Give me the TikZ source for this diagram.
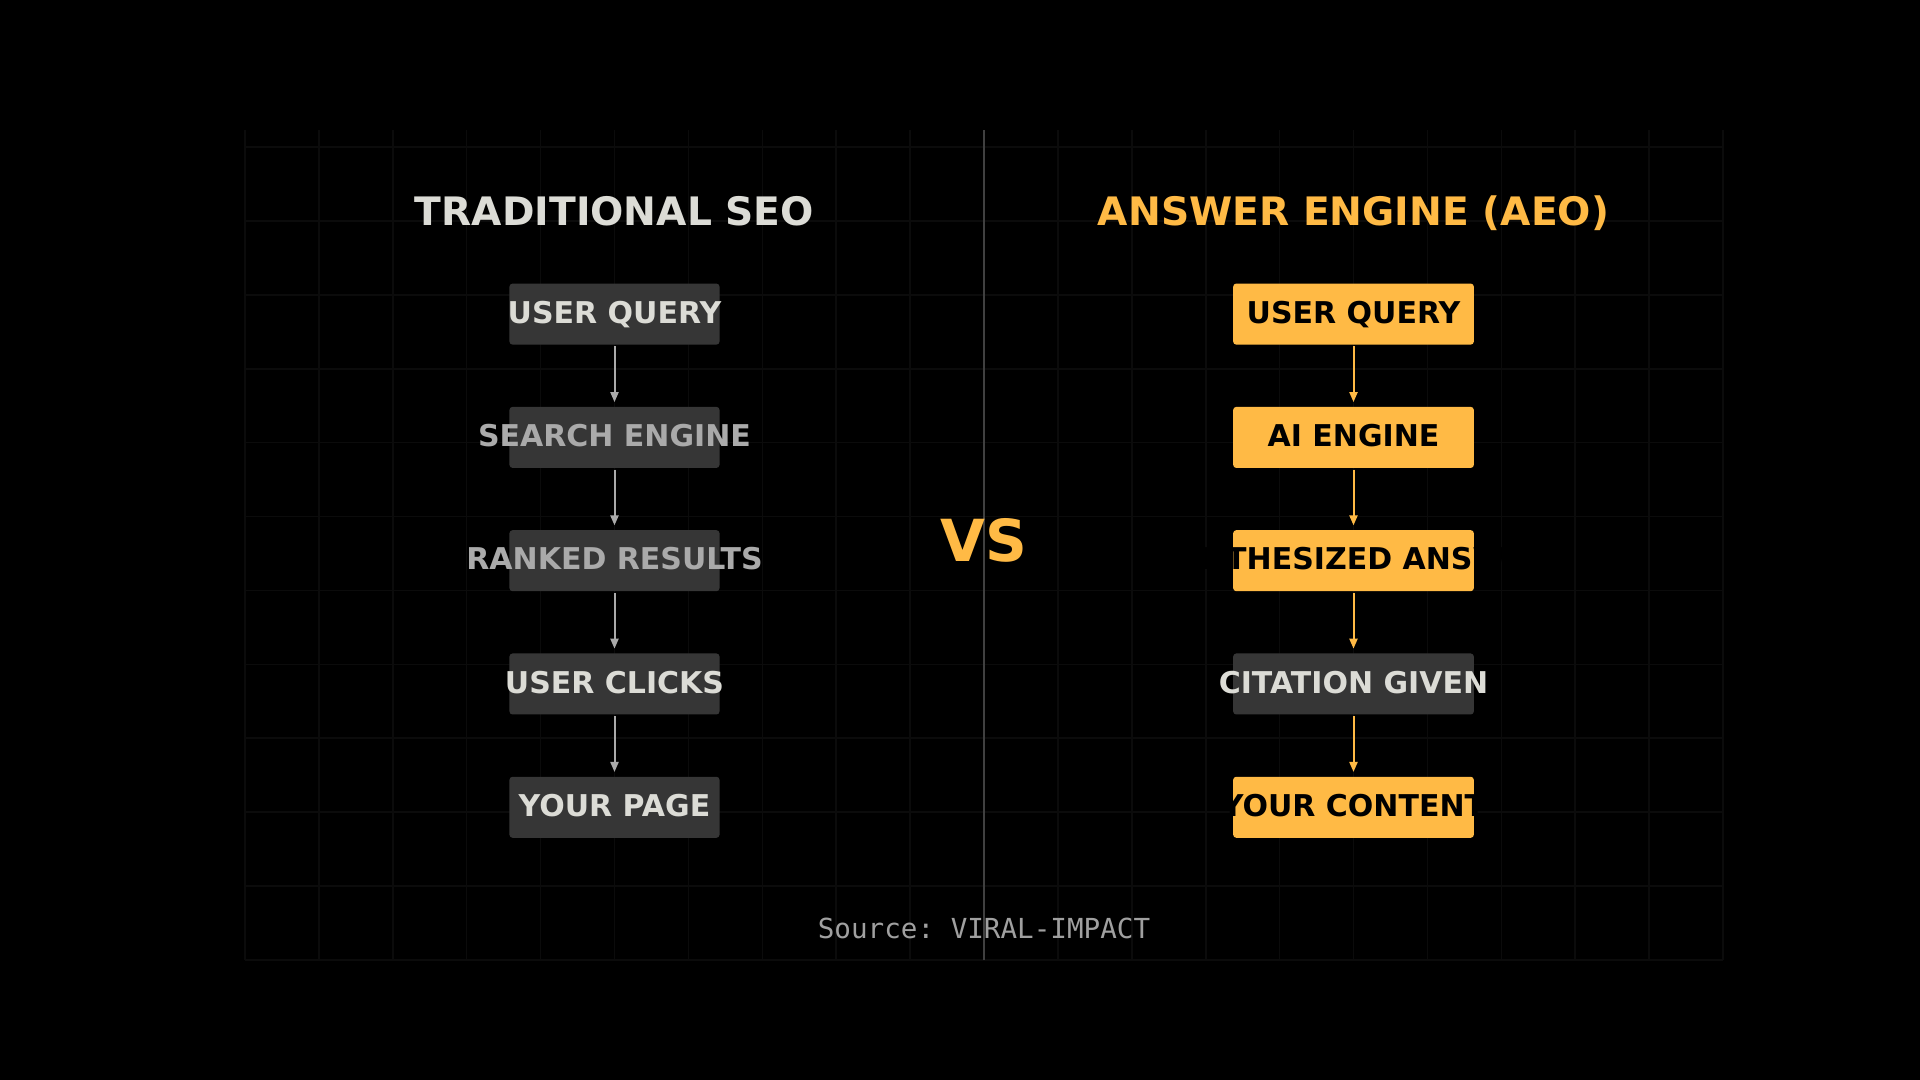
\documentclass[tikz,border=0pt]{standalone}
\usepackage{fontspec}
\setmainfont{DejaVu Sans}
\setmonofont{DejaVu Sans Mono}
\usepackage{tikz}
\usetikzlibrary{arrows.meta}
\usetikzlibrary{positioning}
\definecolor{boxgray}{HTML}{363636}
\definecolor{aeoorange}{HTML}{FFBA45}
\definecolor{lighttext}{HTML}{DCDCD6}
\definecolor{dimtext}{HTML}{AAAAAA}
\definecolor{gridgray}{HTML}{0B0B0B}
\definecolor{divgray}{HTML}{404040}
\definecolor{sourcegray}{HTML}{A0A0A0}
\tikzstyle{grid line} = [gridgray, line width = 0.8pt]
\tikzstyle{divider} = [divgray, line width = 1pt]
\tikzstyle{box} = [rectangle, rounded corners = 1.5pt, inner sep = 0,
    minimum height = 30.5pt, text height = 11pt, text depth = 1.8pt,
    font = \fontsize{15pt}{18pt}\selectfont\bfseries]
\tikzstyle{seo box} = [box, fill = boxgray, minimum width = 105pt]
\tikzstyle{aeo box} = [box, minimum width = 120.3pt]
\tikzstyle{title} = [anchor = base, font = \fontsize{19.6pt}{23pt}\selectfont\bfseries]
\tikzstyle{flow} = [line width = 1pt, -{Triangle[length = 5pt, width = 4pt]},
    shorten > = 2.2pt, shorten < = 0.7pt]

\begin{document}
\begin{tikzpicture}[x = 7.39pt, y = 7.39pt]
            \fill [black] (-16.576, -8.119) rectangle (113.329, 64.953);

            \foreach \x in {0, 5, ..., 100}
            {
                \draw [grid line] (\x, 0) -- (\x, 56.16);
            }
            \foreach \y in {0, 5, ..., 55}
            {
                \draw [grid line] (0, \y) -- (100, \y);
            }

            \draw [divider] (50, 0) -- (50, 56.16);

            \node [title, text = lighttext] (seo title) at (25, 49.68) {TRADITIONAL SEO};
            \node [title, text = aeoorange] (aeo title) at (75, 49.68) {ANSWER ENGINE (AEO)};

            \foreach \t/\c [count = \i] in {USER QUERY/lighttext,
                SEARCH ENGINE/dimtext, RANKED RESULTS/dimtext,
                USER CLICKS/lighttext, YOUR PAGE/lighttext}
            {
                \node [seo box, text = \c] (l\i) at (25, 52.042 - 8.342 * \i)
                    {\makebox[0pt]{\t}};
            }

            \foreach \t/\f/\c [count = \i] in {USER QUERY/aeoorange/black,
                AI ENGINE/aeoorange/black, SYNTHESIZED ANSWER/aeoorange/black,
                CITATION GIVEN/boxgray/lighttext, YOUR CONTENT/aeoorange/black}
            {
                \node [aeo box, fill = \f, text = \c] (r\i) at (75, 52.042 - 8.342 * \i)
                    {\makebox[0pt]{\t}};
            }

            \foreach \i/\j in {1/2, 2/3, 3/4, 4/5}
            {
                \draw [flow, dimtext] (l\i.south) -- (l\j.north);
                \draw [flow, aeoorange] (r\i.south) -- (r\j.north);
            }

            \node [anchor = base, text = aeoorange,
                   font = \fontsize{29pt}{34pt}\selectfont\bfseries]
                  (vs) at (50, 26.95) {VS};

            \node [anchor = base, text = sourcegray,
                   font = \fontsize{13.8pt}{16pt}\selectfont\ttfamily]
                  (source) at (50, 1.47) {Source: VIRAL-IMPACT};
        \end{tikzpicture}
\end{document}
